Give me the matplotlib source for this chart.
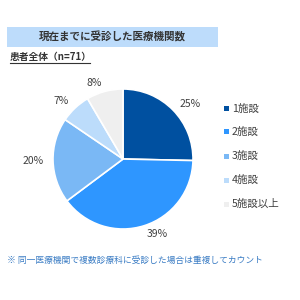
import matplotlib.pyplot as plt
from matplotlib.patches import Rectangle
from matplotlib.lines import Line2D

plt.rcParams['font.family'] = ['Noto Sans CJK JP', 'DejaVu Sans']

# data (n=71)
categories = ['1施設', '2施設', '3施設', '4施設', '5施設以上']
counts = [18, 28, 14, 5, 6]
pct_labels = ['25%', '39%', '20%', '7%', '8%']
colors = ['#0050a0', '#2e96ff', '#7ab8f5', '#bcdcfb', '#efefef']

W = H = 300.0
fig = plt.figure(figsize=(3, 3), dpi=100)

def fx(px):
    return px / W

def fy(py):
    return 1 - py / H

# title box
fig.patches.append(Rectangle((fx(7), fy(47)), fx(211), 20 / H, transform=fig.transFigure,
                             facecolor='#bddcfb', edgecolor='none'))
fig.text(fx(112), fy(37), '現在までに受診した医療機関数', ha='center', va='center',
         fontsize=7.6, fontweight='bold', color='#333333')

fig.text(fx(10), fy(57), '患者全体（n=71）', ha='left', va='center',
         fontsize=7, fontweight='bold', color='#333333')
fig.lines.append(Line2D([fx(10), fx(90)], [fy(63), fy(63)], transform=fig.transFigure,
                        color='#333333', lw=0.8))

# pie
cx, cy, r = 123, 159, 70
ax = fig.add_axes([fx(cx - r), fy(cy + r), 2 * r / W, 2 * r / H])
wedges, texts = ax.pie(counts, colors=colors, startangle=90, counterclock=False,
                       labels=pct_labels, labeldistance=1.13,
                       wedgeprops=dict(edgecolor='white', linewidth=1.2),
                       textprops=dict(fontsize=7.5, color='#404040'))
ax.set_xlim(-1, 1)
ax.set_ylim(-1, 1)
ax.set_aspect('equal')

# legend
leg_y = [109, 132, 156, 180, 204]
for c, lab, yy in zip(colors, categories, leg_y):
    fig.patches.append(Rectangle((fx(224), fy(yy + 2.5)), 5 / W, 5 / H,
                                 transform=fig.transFigure, facecolor=c, edgecolor='none'))
    fig.text(fx(232), fy(yy), lab, ha='left', va='center', fontsize=7.6, color='#404040')

fig.text(fx(7), fy(260), '※ 同一医療機関で複数診療科に受診した場合は重複してカウント',
         ha='left', va='center', fontsize=6.3, color='#3a7cc4')

fig.savefig('out.png', dpi=100)
